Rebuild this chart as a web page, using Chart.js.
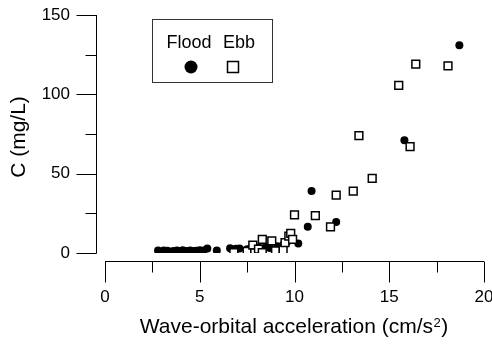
<!DOCTYPE html>
<html>
<head>
<meta charset="utf-8">
<script src="https://cdn.jsdelivr.net/npm/chart.js@4/dist/chart.umd.min.js"></script>
<style>
  body { margin: 0; background: #fff; }
  #wrap { width: 492px; height: 345px; }
</style>
</head>
<body>
<div id="wrap"><canvas id="sedChart" width="492" height="345"></canvas></div>
<script>
// flood (filled circles)
const floodX = [2.8, 3.1, 3.3, 3.6, 3.8, 4.0, 4.1, 4.3, 4.4, 4.5, 4.6, 4.8, 4.9, 5.0, 5.2, 5.4, 5.9,
  6.6, 6.9, 7.1, 7.5, 7.7, 7.9, 8.1, 8.3, 8.5, 8.7, 9.1, 9.3, 9.4, 9.6, 9.8, 10.2, 10.7, 10.9, 12.2, 15.8, 18.7];
const floodC = [1.5, 1.6, 1.4, 1.2, 1.5, 1.2, 1.8, 1.3, 1.0, 1.6, 1.2, 1.4, 0.8, 1.7, 1.5, 2.8, 1.6,
  3.0, 2.6, 2.9, 2.4, 3.2, 2.1, 3.5, 2.6, 3.8, 3.1, 4.2, 3.2, 5.0, 7.0, 8.5, 6.0, 16.5, 39, 19.5, 71, 131];

// ebb (open squares)
const ebbX = [6.8, 7.5, 7.8, 7.9, 8.1, 8.3, 8.3, 8.8, 9.0, 9.4, 9.5, 9.7, 9.8, 9.9, 10.0, 11.1,
  11.9, 12.2, 13.1, 13.4, 14.1, 15.5, 16.1, 16.4, 18.1];
const ebbC = [0.2, 1.0, 5.0, 0.0, 2.5, 0.2, 8.6, 7.7, 1.3, 2.0, 6.5, 10.7, 12.4, 8.6, 24, 23.5,
  16.5, 36.5, 39, 74, 47, 105.6, 67, 119, 118];

const xMajor = [0, 5, 10, 15, 20];
const xMinor = [2.5, 7.5, 12.5, 17.5];
const yMajor = [0, 50, 100, 150];
const yMinor = [25, 75, 125];

const FONT = '"Liberation Sans", Arial, sans-serif';

function pts(xs, ys) {
  return xs.map((x, i) => ({ x: x, y: ys[i] }));
}

// axes are drawn detached from the plot area, like the original figure
const axesPlugin = {
  id: 'detachedAxes',
  afterDraw(chart) {
    const ctx = chart.ctx;
    const xs = chart.scales.x, ys = chart.scales.y;
    const axisX = 96.5;   // y axis line
    const axisY = 261.5;  // x axis line
    ctx.save();
    ctx.strokeStyle = '#000';
    ctx.lineWidth = 1;
    ctx.fillStyle = '#000';

    // y axis
    ctx.beginPath();
    ctx.moveTo(axisX, ys.getPixelForValue(150));
    ctx.lineTo(axisX, ys.getPixelForValue(0) + 0.5);
    yMajor.forEach(v => {
      const p = Math.round(ys.getPixelForValue(v)) + 0.5;
      ctx.moveTo(axisX - 20, p); ctx.lineTo(axisX, p);
    });
    yMinor.forEach(v => {
      const p = Math.round(ys.getPixelForValue(v)) + 0.5;
      ctx.moveTo(axisX - 11, p); ctx.lineTo(axisX, p);
    });
    ctx.stroke();

    ctx.font = '17px ' + FONT;
    ctx.textAlign = 'right';
    ctx.textBaseline = 'middle';
    yMajor.forEach(v => {
      ctx.fillText(String(v), 70, ys.getPixelForValue(v));
    });

    // x axis
    ctx.beginPath();
    ctx.moveTo(xs.getPixelForValue(0), axisY);
    ctx.lineTo(xs.getPixelForValue(20), axisY);
    xMajor.forEach(v => {
      const p = Math.round(xs.getPixelForValue(v)) + 0.5;
      ctx.moveTo(p, axisY); ctx.lineTo(p, axisY + 21);
    });
    xMinor.forEach(v => {
      const p = Math.round(xs.getPixelForValue(v)) + 0.5;
      ctx.moveTo(p, axisY); ctx.lineTo(p, axisY + 11);
    });
    ctx.stroke();

    ctx.textAlign = 'center';
    ctx.textBaseline = 'alphabetic';
    xMajor.forEach(v => {
      ctx.fillText(String(v), xs.getPixelForValue(v), 302);
    });

    // x title with a raised "2"
    const main = 'Wave-orbital acceleration (cm/s';
    ctx.font = '21px ' + FONT;
    const wMain = ctx.measureText(main).width;
    const wClose = ctx.measureText(')').width;
    ctx.font = '13px ' + FONT;
    const wSup = ctx.measureText('2').width;
    let tx = 294 - (wMain + wSup + 1 + wClose) / 2;
    ctx.textAlign = 'left';
    ctx.font = '21px ' + FONT;
    ctx.fillText(main, tx, 333);
    ctx.font = '13px ' + FONT;
    ctx.fillText('2', tx + wMain + 0.5, 327);
    ctx.font = '21px ' + FONT;
    ctx.fillText(')', tx + wMain + wSup + 1, 333);

    // y title
    ctx.save();
    ctx.translate(25, 137);
    ctx.rotate(-Math.PI / 2);
    ctx.textAlign = 'center';
    ctx.fillText('C (mg/L)', 0, 0);
    ctx.restore();

    // legend box
    ctx.textAlign = 'center';
    ctx.strokeStyle = '#333';
    ctx.strokeRect(152.5, 19.5, 120, 63);
    ctx.font = '18px ' + FONT;
    ctx.fillText('Flood', 189, 48);
    ctx.fillText('Ebb', 239, 48);
    ctx.beginPath();
    ctx.arc(191, 67, 6.5, 0, Math.PI * 2);
    ctx.fill();
    ctx.lineWidth = 1.5;
    ctx.strokeStyle = '#000';
    ctx.strokeRect(227.5, 61.5, 11, 11);
    ctx.restore();
  }
};

new Chart(document.getElementById('sedChart'), {
  type: 'scatter',
  data: {
    datasets: [
      {
        label: 'Ebb',
        data: pts(ebbX, ebbC),
        pointStyle: 'rect',
        pointRadius: 5.5,
        borderColor: '#000',
        backgroundColor: '#fff',
        borderWidth: 1.5
      },
      {
        label: 'Flood',
        data: pts(floodX, floodC),
        pointStyle: 'circle',
        pointRadius: 4,
        borderColor: '#000',
        backgroundColor: '#000',
        borderWidth: 0
      }
    ]
  },
  options: {
    responsive: false,
    animation: false,
    layout: { padding: { left: 105, right: 8, top: 15, bottom: 92 } },
    scales: {
      x: { type: 'linear', min: 0, max: 20, display: false },
      y: { type: 'linear', min: 0, max: 150, display: false }
    },
    plugins: {
      legend: { display: false },
      tooltip: { enabled: false }
    }
  },
  plugins: [axesPlugin]
});
</script>
</body>
</html>
